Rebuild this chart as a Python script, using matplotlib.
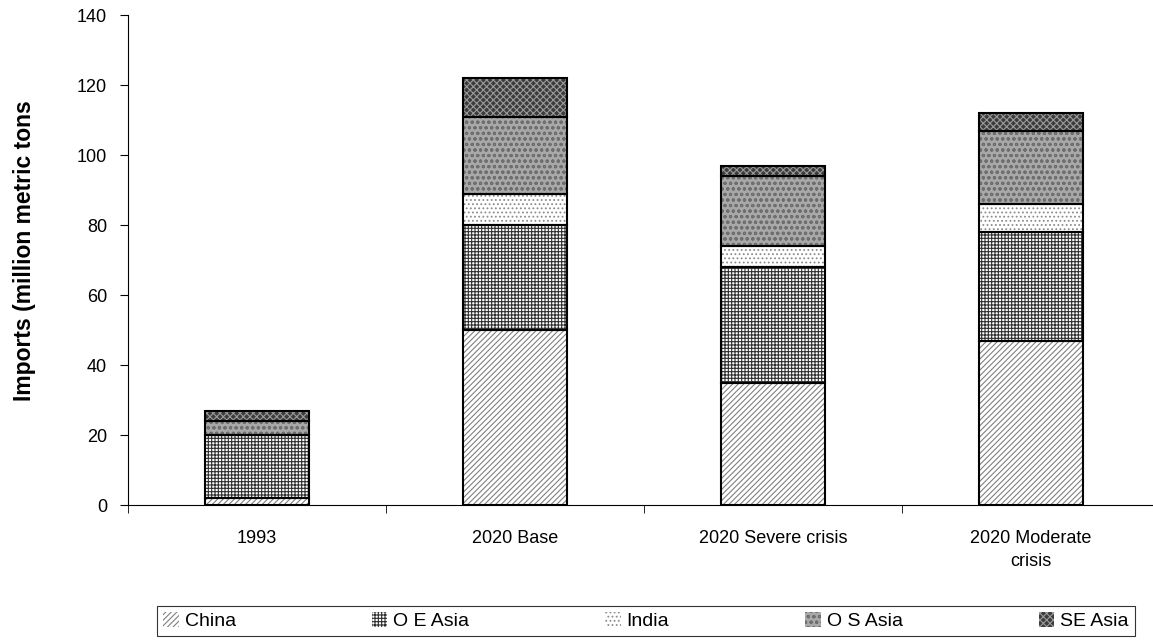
import numpy as np
import matplotlib; matplotlib.use("Agg")
import matplotlib.pyplot as plt

plt.rcParams["font.family"] = ["Liberation Sans", "DejaVu Sans"]
plt.rcParams["hatch.linewidth"] = 0.8

# ---------------------------------------------------------------------------
# data (million metric tons)
# ---------------------------------------------------------------------------
categories = ["1993", "2020 Base", "2020 Severe crisis", "2020 Moderate\ncrisis"]
series = ["China", "O E Asia", "India", "O S Asia", "SE Asia"]
china    = [2, 50, 35, 47]
oe_asia  = [18, 30, 33, 31]
india    = [0, 9, 6, 8]
os_asia  = [4, 22, 20, 21]
se_asia  = [3, 11, 3, 5]

values = [china, oe_asia, india, os_asia, se_asia]
# facecolor, hatch, hatch colour
styles = [("white", "//////", "#808080"),
          ("white", "+++++", "#303030"),
          ("white", "....", "#8c8c8c"),
          ("#a8a8a8", "ooo", "#6e6e6e"),
          ("#3c3c3c", "xxxxx", "#9a9a9a")]

fig = plt.figure(figsize=(11.53, 6.43), dpi=100)
ax = fig.add_axes([128/1153, 1-505/643, (1160-128)/1153, 490/643])

x = np.arange(len(categories))
w = 0.4
bottom = np.zeros(len(categories))
handles = []
for name, vals, (fc, ht, hc) in zip(series, values, styles):
    vals = np.array(vals, dtype=float)
    b = ax.bar(x, vals, w, bottom=bottom, color=fc, hatch=ht,
               edgecolor=hc, linewidth=0, zorder=2)
    ax.bar(x, vals, w, bottom=bottom, fill=False, edgecolor="black",
           linewidth=1.5, zorder=3)
    handles.append(b)
    bottom += vals

ax.set_xlim(-0.5, 3.5)
ax.set_ylim(0, 140)
ax.set_yticks(np.arange(0, 141, 20))
ax.set_xticks(x)
ax.set_xticklabels(categories, fontsize=13, linespacing=1.5)
ax.set_xticks(np.arange(-0.5, 3.6, 1), minor=True)
ax.tick_params(axis="x", which="major", length=0, pad=18)
ax.tick_params(axis="x", which="minor", length=6, direction="out")
ax.tick_params(axis="y", length=6, direction="out", labelsize=13, pad=9)
ax.spines["top"].set_visible(False)
ax.spines["right"].set_visible(False)
ax.set_ylabel("Imports (million metric tons", fontsize=16.5,
              fontweight="bold")
ax.yaxis.set_label_coords(-92/1032, 0.52)

leg = fig.legend(handles, series, loc="center", ncol=5,
                 bbox_to_anchor=(646/1153, 22/643), frameon=True,
                 fancybox=False, edgecolor="black", fontsize=14,
                 handlelength=0.8, handleheight=0.8, handletextpad=0.3,
                 columnspacing=7.0, borderpad=0.3)
leg.get_frame().set_linewidth(0.8)

plt.savefig("out.png", dpi=100)
plt.close(fig)
